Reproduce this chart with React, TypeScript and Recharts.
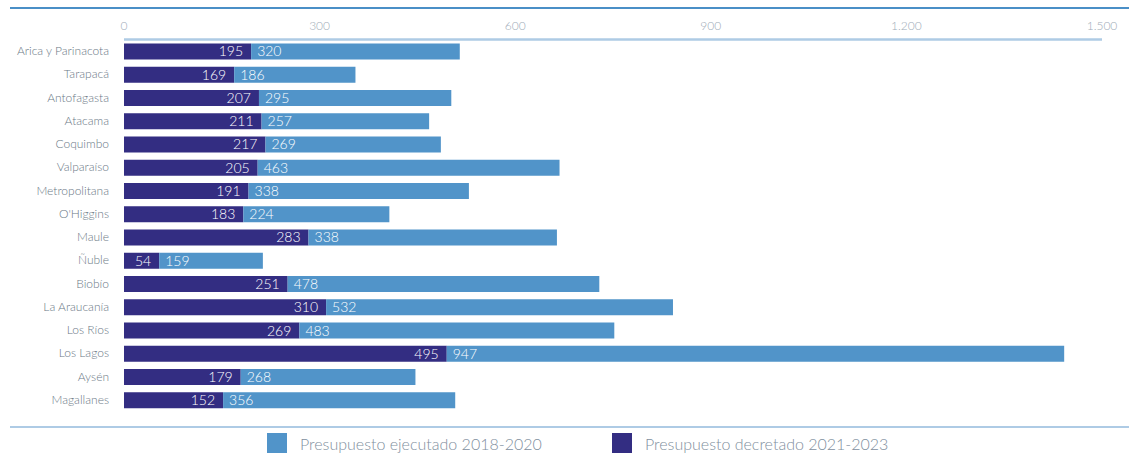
import { BarChart, Bar, XAxis, YAxis, Legend, LabelList } from "recharts";

const regions = [
  "Arica y Parinacota", "Tarapacá", "Antofagasta", "Atacama", "Coquimbo", "Valparaíso",
  "Metropolitana", "O'Higgins", "Maule", "Ñuble", "Biobío", "La Araucanía",
  "Los Ríos", "Los Lagos", "Aysén", "Magallanes",
];
const decretado = [195, 169, 207, 211, 217, 205, 191, 183, 283, 54, 251, 310, 269, 495, 179, 152];
// bar lengths as drawn; Maule's bar is longer than its printed label
const ejecutado = [320, 186, 295, 257, 269, 463, 338, 224, 381, 159, 478, 532, 483, 947, 268, 356];
const ejecutadoLabels = [320, 186, 295, 257, 269, 463, 338, 224, 338, 159, 478, 532, 483, 947, 268, 356];
const xTicks = [0, 300, 600, 900, 1200, 1500];

const COLORS = {
  dark: "#332d82",
  light: "#5194c9",
  axis: "#aecbe5",
  rule: "#4a8fc7",
  label: "#6b7986",
  tick: "#9eabb7",
  legend: "#7f8f9e",
};

const FONT = "Lato, 'Open Sans', sans-serif";

const data = regions.map((name, i) => ({
  name,
  decretado: decretado[i],
  ejecutado: ejecutado[i],
  ejecutadoLabel: ejecutadoLabels[i],
}));

const legendItems = [
  { label: "Presupuesto ejecutado 2018-2020", color: COLORS.light },
  { label: "Presupuesto decretado 2021-2023", color: COLORS.dark },
];

const fmt = (v: number) => v.toLocaleString("de-DE");

function LegendContent() {
  return (
    <div style={{ position: "relative", height: 24, fontFamily: FONT }}>
      {legendItems.map((it, i) => (
        <div key={it.label} style={{ display: "flex", alignItems: "center", position: "absolute", top: 2, left: i === 0 ? 267 : 612 }}>
          <div style={{ width: 20, height: 20, background: it.color, marginRight: 13 }} />
          <span style={{ fontSize: 16, fontWeight: 300, color: COLORS.legend, whiteSpace: "nowrap" }}>{it.label}</span>
        </div>
      ))}
    </div>
  );
}

function RegionTick(props: any) {
  const { x, y, payload } = props;
  return (
    <text x={x} y={y} dy={4} textAnchor="end" fill={COLORS.label} fontSize={12} fontWeight={300} fontFamily={FONT}>
      {payload.value}
    </text>
  );
}

export default function App() {
  return (
    <div style={{ position: "relative", width: 1129, height: 455, background: "#fff", overflow: "hidden" }}>
      <style>{`body{margin:0}`}</style>
      {/* title rule (title text is cropped off above) */}
      <div style={{ position: "absolute", left: 10, top: 7, width: 1119, height: 1.5, background: COLORS.rule }} />
      {/* bottom rule above legend */}
      <div style={{ position: "absolute", left: 10, top: 426, width: 1119, height: 1.5, background: COLORS.axis }} />
      <BarChart
        width={1129}
        height={455}
        data={data}
        layout="vertical"
        margin={{ top: 9, right: 27, bottom: 19.4, left: 10 }}
        barSize={16}
      >
        <XAxis
          type="number"
          orientation="top"
          domain={[0, 1500]}
          ticks={xTicks}
          tickFormatter={fmt}
          height={30.4}
          tickLine={false}
          tickSize={0}
          tickMargin={9}
          axisLine={{ stroke: COLORS.axis, strokeWidth: 2.5 }}
          tick={{ fill: COLORS.tick, fontSize: 12, fontWeight: 300, fontFamily: FONT }}
        />
        <YAxis
          type="category"
          dataKey="name"
          width={114}
          tickLine={false}
          axisLine={false}
          tickSize={0}
          tickMargin={15}
          interval={0}
          tick={<RegionTick />}
        />
        <Legend
          verticalAlign="bottom"
          height={24}
          content={() => <LegendContent />}
          wrapperStyle={{ top: 431, left: 0, width: 1129 }}
        />
        <Bar dataKey="decretado" stackId="a" fill={COLORS.dark} isAnimationActive={false}>
          <LabelList dataKey="decretado" position="insideRight" offset={8} fill="#fff" fontSize={14} fontWeight={300} fontFamily={FONT} />
        </Bar>
        <Bar dataKey="ejecutado" stackId="a" fill={COLORS.light} isAnimationActive={false}>
          <LabelList dataKey="ejecutadoLabel" position="insideLeft" offset={6} fill="#fff" fontSize={14} fontWeight={300} fontFamily={FONT} />
        </Bar>
      </BarChart>
    </div>
  );
}
